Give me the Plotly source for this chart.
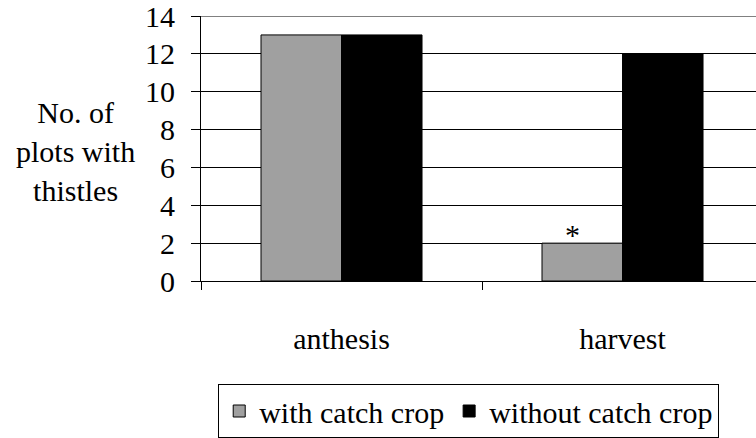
import plotly.graph_objects as go

categories = ["anthesis", "harvest"]
with_catch = [13, 2]
without_catch = [13, 12]
y_ticks = [0, 2, 4, 6, 8, 10, 12, 14]
significance_mark = "*"

FONT = "Liberation Serif, Times New Roman, serif"
FS = 30

fig = go.Figure()
fig.add_trace(go.Bar(
    x=categories, y=with_catch, name="with catch crop",
    marker=dict(color="#a0a0a0", line=dict(color="black", width=1)),
))
fig.add_trace(go.Bar(
    x=categories, y=without_catch, name="without catch crop",
    marker=dict(color="black", line=dict(color="black", width=1)),
))

fig.update_layout(
    width=756, height=438,
    margin=dict(l=201, r=0, t=16, b=156),
    paper_bgcolor="white", plot_bgcolor="white",
    barmode="group", bargap=0.427, bargroupgap=0,
    font=dict(family=FONT, size=FS, color="black"),
    showlegend=True,
    legend=dict(
        orientation="h", x=0.031, xanchor="left", y=-0.39, yanchor="top",
        bordercolor="black", borderwidth=1, bgcolor="white",
        font=dict(family=FONT, size=FS, color="black"),
        itemwidth=30, tracegroupgap=0,
    ),
)

fig.update_xaxes(
    type="category", range=[-0.5, 1.475],
    showline=True, linecolor="black", linewidth=1,
    ticks="outside", tickson="boundaries", ticklen=8, tickcolor="black", tickwidth=1,
    ticklabelstandoff=31,
    showgrid=False, zeroline=False,
    tickfont=dict(family=FONT, size=FS, color="black"),
)
fig.update_yaxes(
    range=[0, 14], tickvals=y_ticks,
    showline=True, linecolor="black", linewidth=1,
    ticks="outside", ticklen=9, tickcolor="black", tickwidth=1,
    showgrid=True, gridcolor="black", gridwidth=1,
    zeroline=False,
    ticklabelstandoff=10, ticklabeloverflow="allow",
    tickfont=dict(family=FONT, size=FS, color="black"),
)

fig.add_shape(type="line", xref="paper", yref="y", x0=0, x1=1, y0=14, y1=14,
              line=dict(color="#808080", width=2), layer="above")

# significance mark above the gray harvest bar
fig.add_annotation(
    text=significance_mark, x=categories[1], y=with_catch[1], xref="x", yref="y",
    xshift=-50, yshift=-10, yanchor="bottom", showarrow=False,
    font=dict(family=FONT, size=FS, color="black"),
)

fig.add_annotation(
    text="No. of<br>plots with<br>thistles", xref="paper", yref="paper",
    x=-0.226, y=0.49, xanchor="center", yanchor="middle", showarrow=False,
    align="center", font=dict(family=FONT, size=FS, color="black"),
)

fig.write_html("out.html")
